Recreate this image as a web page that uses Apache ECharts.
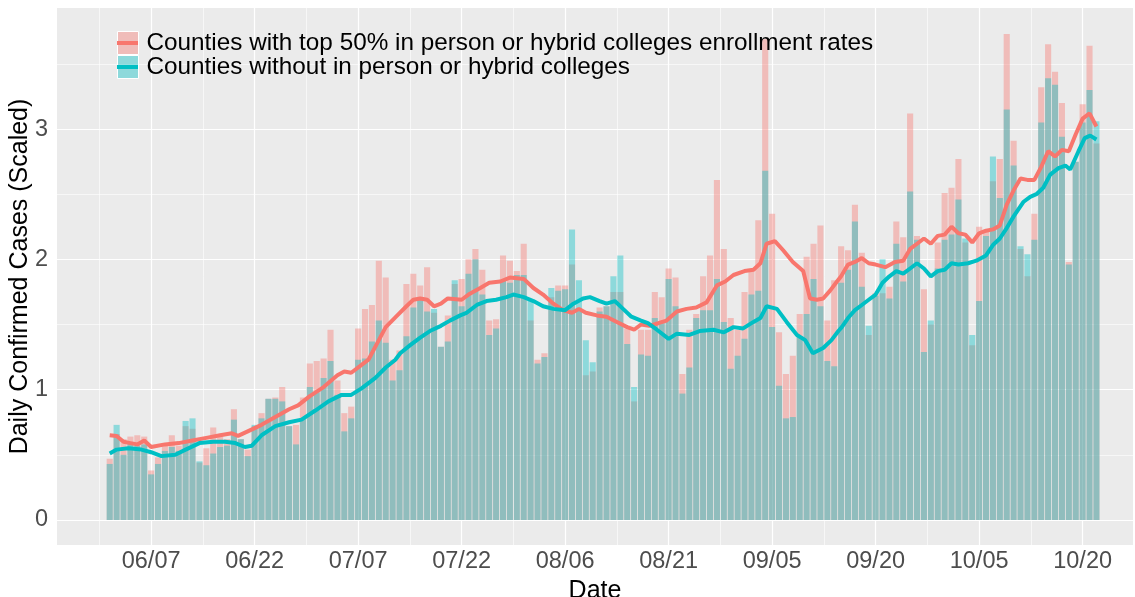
<!DOCTYPE html>
<html>
<head>
<meta charset="utf-8">
<title>Daily Confirmed Cases (Scaled)</title>
<script src="https://cdn.jsdelivr.net/npm/echarts@6/dist/echarts.min.js"></script>
<style>
  html, body { margin: 0; padding: 0; background: #fff; }
  #chart { width: 1135px; height: 597px; }
</style>
</head>
<body>
<div id="chart"></div>
<script>
// first day of the series, one bar per day after it
const firstDay = '2020-06-01';
const tickLabels = ['06/07', '06/22', '07/07', '07/22', '08/06', '08/21', '09/05', '09/20', '10/05', '10/20'];
const yTicks = [0, 1, 2, 3];

const collegeName = 'Counties with top 50% in person or hybrid colleges enrollment rates';
const noCollegeName = 'Counties without in person or hybrid colleges';

// daily bars
const collegeBars = [
  0.47, 0.66, 0.62, 0.64, 0.65, 0.64, 0.38, 0.48, 0.57, 0.65,
  0.57, 0.72, 0.70, 0.44, 0.55, 0.71, 0.64, 0.62, 0.85, 0.62,
  0.54, 0.72, 0.82, 0.93, 0.94, 1.02, 0.72, 0.73, 0.94, 1.20,
  1.22, 1.24, 1.46, 1.07, 0.82, 0.87, 1.47, 1.62, 1.65, 1.99,
  1.86, 1.23, 1.30, 1.81, 1.89, 1.80, 1.94, 1.59, 1.33, 1.57,
  1.81, 1.85, 2.00, 2.08, 1.92, 1.53, 1.54, 2.03, 1.99, 1.91,
  2.12, 1.53, 1.23, 1.28, 1.71, 1.80, 1.80, 1.96, 1.62, 1.11,
  1.14, 1.63, 1.64, 1.75, 1.75, 1.47, 0.91, 1.46, 1.46, 1.75,
  1.71, 1.93, 1.86, 1.12, 1.46, 1.58, 1.87, 2.03, 2.61, 2.08,
  1.55, 1.46, 1.75, 1.91, 2.30, 3.69, 2.35, 1.44, 1.12, 1.26,
  1.58, 2.02, 2.12, 2.26, 1.53, 1.84, 2.10, 2.07, 2.42, 2.05,
  1.42, 1.74, 1.74, 1.79, 2.29, 2.17, 3.12, 2.18, 1.77, 1.50,
  2.13, 2.51, 2.55, 2.77, 2.13, 1.34, 2.25, 2.22, 2.60, 2.77,
  3.73, 2.91, 2.08, 1.87, 2.35, 3.32, 3.65, 3.44, 3.20, 1.98,
  2.75, 3.19, 3.64, 2.89
];
const noCollegeBars = [
  0.43, 0.73, 0.50, 0.59, 0.57, 0.58, 0.35, 0.43, 0.53, 0.56,
  0.53, 0.76, 0.78, 0.45, 0.42, 0.51, 0.56, 0.57, 0.77, 0.62,
  0.49, 0.73, 0.78, 0.93, 0.93, 0.91, 0.72, 0.58, 0.78, 1.02,
  0.98, 1.09, 1.22, 0.96, 0.68, 0.78, 1.23, 1.24, 1.37, 1.53,
  1.36, 1.07, 1.15, 1.41, 1.63, 1.71, 1.60, 1.62, 1.33, 1.37,
  1.84, 1.64, 1.89, 2.00, 1.73, 1.42, 1.47, 1.84, 1.82, 1.88,
  1.88, 1.68, 1.20, 1.25, 1.78, 1.76, 1.77, 2.23, 1.84, 1.38,
  1.21, 1.60, 1.64, 1.87, 2.03, 1.35, 1.02, 1.27, 1.26, 1.55,
  1.51, 1.85, 1.64, 0.97, 1.17, 1.55, 1.61, 1.61, 1.85, 1.52,
  1.16, 1.26, 1.39, 1.73, 1.76, 2.68, 1.48, 1.03, 0.78, 0.79,
  1.41, 1.58, 1.85, 1.64, 1.22, 1.18, 1.82, 1.92, 2.29, 1.79,
  1.49, 1.72, 2.00, 1.70, 2.12, 1.83, 2.52, 2.15, 1.29, 1.53,
  1.93, 2.15, 2.19, 2.46, 2.16, 1.42, 1.68, 2.18, 2.79, 2.47,
  3.15, 2.72, 2.10, 2.04, 2.15, 3.05, 3.39, 3.34, 2.94, 1.96,
  2.75, 3.05, 3.30, 3.06
];

// smoothed lines, [day index, value]
const collegeLine = [
  [0, 0.65], [1, 0.645], [2, 0.60], [3, 0.59], [4, 0.58], [5, 0.61], [6, 0.56], [8, 0.58],
  [10, 0.59], [12, 0.61], [14, 0.63], [16, 0.65], [17.7, 0.665], [18.6, 0.645], [20, 0.68],
  [22, 0.73], [24, 0.79], [26, 0.85], [27.3, 0.88], [29, 0.95], [31, 1.02], [33, 1.11],
  [34, 1.14], [35, 1.13], [36.5, 1.19], [37.5, 1.23], [39, 1.38], [40, 1.48], [41.5, 1.56],
  [43, 1.64], [44, 1.69], [45, 1.70], [46, 1.69], [47, 1.64], [48, 1.66], [49, 1.70],
  [51, 1.69], [52, 1.73], [53.7, 1.78], [55, 1.82], [56.6, 1.83], [58, 1.86], [60, 1.85],
  [61.4, 1.78], [62.8, 1.73], [64.3, 1.66], [65.7, 1.61], [67, 1.59], [68, 1.62], [69, 1.59],
  [70.6, 1.57], [72, 1.56], [73.5, 1.52], [75, 1.48], [76, 1.46], [77, 1.50], [78.2, 1.49],
  [79.5, 1.51], [80.7, 1.53], [82.2, 1.60], [83.6, 1.62], [85, 1.63], [86.5, 1.67], [88, 1.80],
  [89.2, 1.83], [90.4, 1.88], [92, 1.91], [93.3, 1.92], [94.3, 1.97], [95.2, 2.12], [96.4, 2.14],
  [97.6, 2.07], [99, 1.98], [100.5, 1.91], [101.5, 1.70], [102.5, 1.69], [103.4, 1.70],
  [104.4, 1.76], [105.4, 1.83], [106, 1.87], [107, 1.96], [108, 1.98], [109, 2.01], [110, 1.97],
  [111, 1.96], [112.4, 1.94], [113.8, 1.98], [115, 1.99], [116, 2.08], [117, 2.12], [118, 2.16],
  [119, 2.12], [120, 2.18], [121, 2.19], [122, 2.25], [123, 2.20], [124, 2.19], [125, 2.13],
  [126, 2.20], [127, 2.22], [128, 2.23], [129, 2.26], [130, 2.42], [131, 2.53], [132, 2.62],
  [133, 2.61], [134, 2.61], [135, 2.71], [136, 2.83], [137, 2.79], [138, 2.84], [139, 2.83],
  [140, 2.96], [141, 3.08], [142, 3.12], [143, 3.02]
];
const noCollegeLine = [
  [0, 0.51], [1, 0.54], [2.7, 0.55], [4.6, 0.54], [6, 0.52], [7.5, 0.49], [9.5, 0.50],
  [11, 0.54], [13, 0.59], [15, 0.60], [16.7, 0.60], [18.2, 0.59], [19.6, 0.56], [20.6, 0.57],
  [22, 0.65], [24, 0.72], [26, 0.75], [27.8, 0.77], [29.8, 0.84], [31.7, 0.91], [33.6, 0.96],
  [35, 0.96], [36.5, 1.01], [38.5, 1.09], [40, 1.17], [41.4, 1.23], [42.1, 1.28], [43.5, 1.34],
  [45, 1.40], [46.4, 1.45], [48, 1.49], [49.3, 1.53], [50.8, 1.57], [51.7, 1.59], [53.2, 1.65],
  [54.6, 1.68], [56, 1.69], [57.5, 1.71], [58.5, 1.73], [60, 1.71], [61.4, 1.68], [62.8, 1.64],
  [64.3, 1.62], [66, 1.61], [67.2, 1.66], [68.6, 1.70], [69.6, 1.71], [71, 1.68], [72, 1.66],
  [73.2, 1.68], [74.4, 1.62], [75.6, 1.56], [77, 1.53], [78, 1.51], [79.3, 1.46], [81, 1.39],
  [82.2, 1.43], [84, 1.42], [85.5, 1.45], [87.5, 1.46], [89, 1.44], [90.4, 1.48], [91.8, 1.47],
  [93.3, 1.52], [94.3, 1.55], [95.2, 1.64], [96.7, 1.62], [98.1, 1.52], [99.6, 1.42],
  [100.8, 1.38], [101.9, 1.28], [103.4, 1.32], [104.6, 1.38], [105.6, 1.45], [106.1, 1.48],
  [107, 1.55], [108, 1.61], [109, 1.65], [110, 1.69], [111, 1.73], [112, 1.82], [113, 1.87],
  [114, 1.91], [115, 1.89], [116, 1.93], [117, 1.97], [118, 1.93], [119, 1.87], [120, 1.91],
  [121, 1.92], [122, 1.97], [123, 1.96], [124.4, 1.97], [125.6, 1.99], [127, 2.03], [128, 2.11],
  [129, 2.16], [130, 2.24], [131, 2.33], [132.4, 2.44], [133.4, 2.48], [134.3, 2.50],
  [135.3, 2.55], [136.3, 2.65], [137.5, 2.70], [138.5, 2.72], [139.2, 2.69], [140.4, 2.83],
  [141.3, 2.93], [142.1, 2.95], [143, 2.92]
];

// day labels
const dates = [];
const d0 = new Date(firstDay + 'T00:00:00Z');
for (let i = 0; i < collegeBars.length; i++) {
  const d = new Date(d0.getTime() + i * 86400000);
  dates.push(String(d.getUTCMonth() + 1).padStart(2, '0') + '/' + String(d.getUTCDate()).padStart(2, '0'));
}
const tickDays = tickLabels.map(l => dates.indexOf(l));

const font = 'Liberation Sans, Arial, sans-serif';
const xMin = -7.64, xMax = 148.3;
const yMin = -0.192, yMax = 3.929;

// ggplot style grid lines (major + minor)
const gridLines = [];
tickDays.forEach(d => gridLines.push({ xAxis: d, lineStyle: { width: 1.2 } }));
tickDays.forEach(d => { if (d - 7.5 > xMin) gridLines.push({ xAxis: d - 7.5, lineStyle: { width: 0.6 } }); });
yTicks.forEach(v => gridLines.push({ yAxis: v, lineStyle: { width: 1.2 } }));
yTicks.forEach(v => { if (v + 0.5 < yMax) gridLines.push({ yAxis: v + 0.5, lineStyle: { width: 0.6 } }); });

const legendText = { fontSize: 24.3, lineHeight: 24, color: '#000', fontFamily: font };

let myChart = echarts.init(document.getElementById('chart'), null, { renderer: 'canvas' });
myChart.setOption({
  animation: false,
  textStyle: { fontFamily: font },
  grid: {
    left: 57, right: 2, top: 8, bottom: 52,
    outerBoundsMode: 'none',
    containLabel: false,
    show: true, backgroundColor: '#EBEBEB', borderWidth: 0
  },
  legend: [
    {
      left: 112, top: 26, orient: 'vertical',
      itemWidth: 21, itemHeight: 23, itemGap: 0,
      icon: 'rect',
      data: [collegeName, noCollegeName],
      itemStyle: { borderColor: '#fff', borderWidth: 1 },
      textStyle: Object.assign({ padding: [0, 0, 0, 3] }, legendText),
      selectedMode: false
    },
    {
      left: 112, top: 26, orient: 'vertical',
      itemWidth: 21, itemHeight: 4, itemGap: 0,
      icon: 'rect',
      data: [collegeName + ' (trend)', noCollegeName + ' (trend)'],
      formatter: () => ' ',
      textStyle: legendText,
      selectedMode: false
    }
  ],
  xAxis: {
    type: 'value',
    min: xMin, max: xMax,
    name: 'Date',
    nameLocation: 'middle',
    nameGap: 29,
    nameTextStyle: { fontSize: 25, color: '#000', fontFamily: font },
    axisLine: { show: false },
    splitLine: { show: false },
    axisTick: { show: true, customValues: tickDays, length: 5, lineStyle: { color: '#333', width: 1 } },
    axisLabel: {
      customValues: tickDays,
      formatter: v => dates[Math.round(v)],
      fontSize: 23.5, color: '#4D4D4D', margin: 5, fontFamily: font
    }
  },
  yAxis: {
    type: 'value',
    min: yMin, max: yMax,
    name: 'Daily Confirmed Cases (Scaled)',
    nameLocation: 'middle',
    nameGap: 24,
    nameMoveOverlap: false,
    nameTextStyle: { fontSize: 25, color: '#000', fontFamily: font },
    axisLine: { show: false },
    splitLine: { show: false },
    axisTick: { show: true, customValues: yTicks, length: 5, lineStyle: { color: '#333', width: 1 } },
    axisLabel: {
      customValues: yTicks,
      fontSize: 23.5, color: '#4D4D4D', margin: 9, fontFamily: font
    }
  },
  series: [
    {
      name: collegeName,
      type: 'bar',
      data: collegeBars.map((v, i) => [i, v]),
      barWidth: 6.1,
      barGap: '-100%',
      itemStyle: { color: 'rgba(248,118,109,0.4)' },
      markLine: {
        silent: true, z: 1,
        symbol: ['none', 'none'],
        label: { show: false },
        emphasis: { disabled: true },
        lineStyle: { color: '#ffffff', type: 'solid' },
        data: gridLines
      }
    },
    {
      name: noCollegeName,
      type: 'bar',
      data: noCollegeBars.map((v, i) => [i, v]),
      barWidth: 6.1,
      barGap: '-100%',
      itemStyle: { color: 'rgba(0,191,196,0.4)' }
    },
    {
      name: collegeName + ' (trend)',
      type: 'line',
      data: collegeLine,
      symbol: 'none',
      z: 5,
      lineStyle: { color: '#F8766D', width: 4 },
      itemStyle: { color: '#F8766D' }
    },
    {
      name: noCollegeName + ' (trend)',
      type: 'line',
      data: noCollegeLine,
      symbol: 'none',
      z: 5,
      lineStyle: { color: '#00BFC4', width: 4 },
      itemStyle: { color: '#00BFC4' }
    }
  ]
});
</script>
</body>
</html>
